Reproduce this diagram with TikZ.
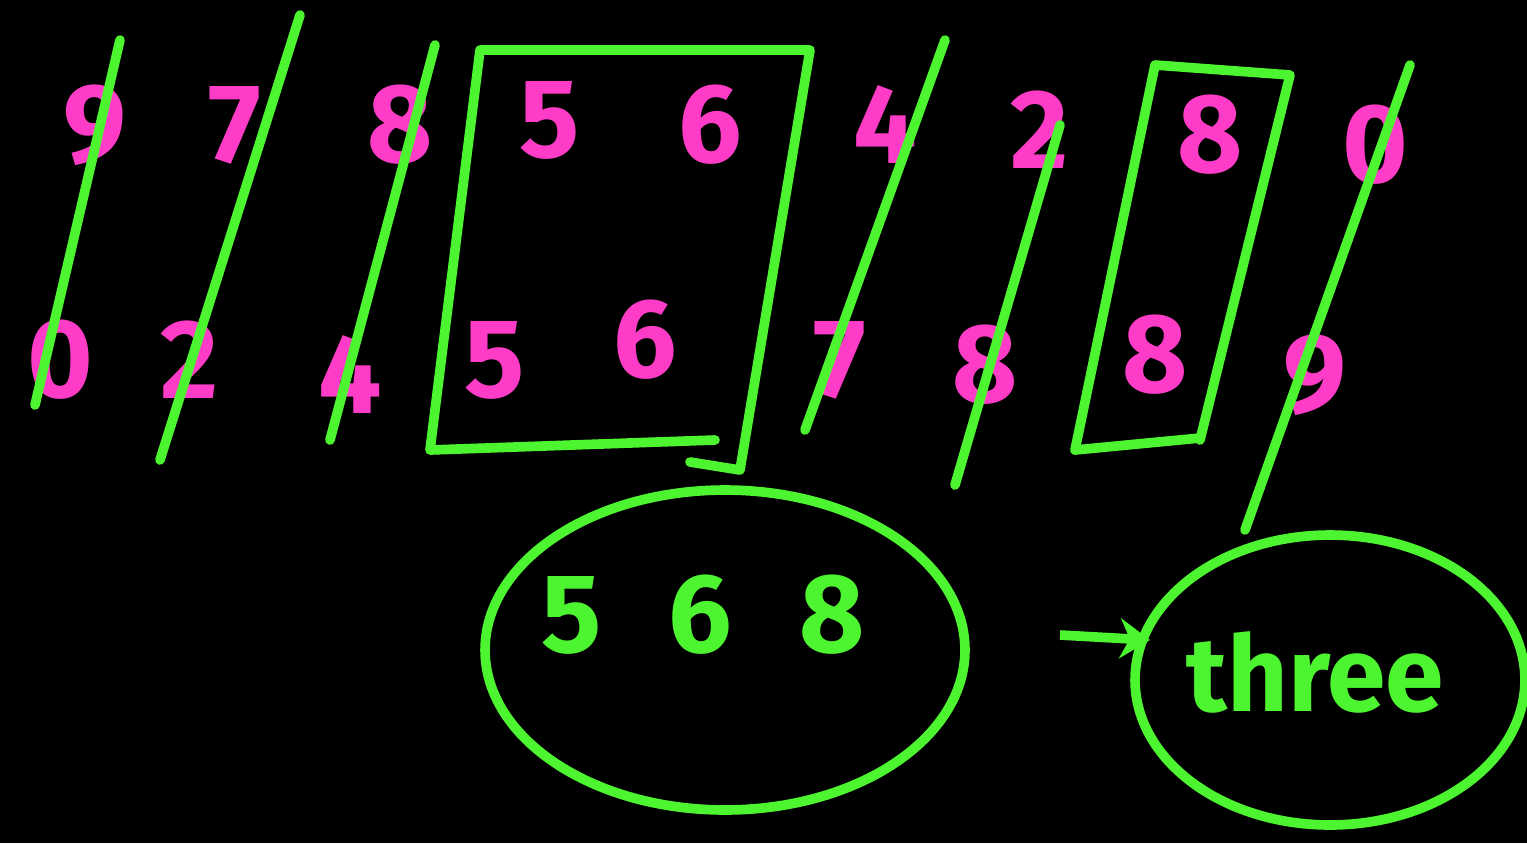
\documentclass[tikz,border=0pt]{standalone}
\usepackage{fontspec}
\setsansfont{Fira Sans}
\usetikzlibrary{arrows.meta,shapes.geometric}
\definecolor{pink}{HTML}{FF3CC8}
\definecolor{lime}{HTML}{4DF531}

\begin{document}
\begin{tikzpicture}[
    x=0.02cm, y=-0.02cm,
    digitnum/.style={
      text=pink,
      font=\sffamily\bfseries\fontsize{64}{64}\selectfont,
      inner sep=0pt
    },
    strike/.style={draw=lime, line width=5.5pt, line cap=round},
    frame/.style={draw=lime, line width=5.5pt, line join=round, line cap=round},
    loop/.style={
      ellipse,
      draw=lime,
      line width=5.5pt,
      inner sep=0pt
    },
    arrow/.style={-{Stealth[length=6mm,width=8mm]}, draw=lime, line width=5.5pt}
  ]
    \fill[black] (0,0) rectangle (1527,843);
    \useasboundingbox (0,0) rectangle (1527,843);

    % first list
    \node[digitnum] (a1) at (95,125) {9};
    \node[digitnum] (a2) at (235,125) {7};
    \node[digitnum] (a3) at (400,125) {8};
    \node[digitnum] (a4) at (550,120) {5};
    \node[digitnum] (a5) at (710,125) {6};
    \node[digitnum] (a6) at (885,125) {4};
    \node[digitnum] (a7) at (1040,130) {2};
    \node[digitnum] (a8) at (1210,135) {8};
    \node[digitnum] (a9) at (1375,145) {0};

    % second list
    \node[digitnum] (b1) at (60,360) {0};
    \node[digitnum] (b2) at (190,360) {2};
    \node[digitnum] (b3) at (350,375) {4};
    \node[digitnum] (b4) at (495,360) {5};
    \node[digitnum] (b5) at (645,340) {6};
    \node[digitnum] (b6) at (840,360) {7};
    \node[digitnum] (b7) at (985,365) {8};
    \node[digitnum] (b8) at (1155,355) {8};
    \node[digitnum] (b9) at (1315,375) {9};

    % crossed out pairs
    \draw[strike] (120,40) -- (35,405);
    \draw[strike] (300,15) -- (160,460);
    \draw[strike] (435,45) -- (330,440);
    \draw[strike] (945,40) -- (805,430);
    \draw[strike] (1060,125) -- (955,485);
    \draw[strike] (1410,65) -- (1245,530);

    % common ones
    \draw[frame] (715,440) -- (430,450) -- (480,50) -- (810,50) -- (740,470) -- (690,462);
    \draw[frame] (1200,438) -- (1075,450) -- (1155,65) -- (1290,75) -- (1200,440);

    \node[loop, minimum width=9.6cm, minimum height=6.4cm] (pick) at (725,650) {};
    \node[text=lime, font=\sffamily\bfseries\fontsize{64}{64}\selectfont] (picked) at (703,615) {5\hspace{1.35cm}6\hspace{1.35cm}8};

    \node[loop, minimum width=7.8cm, minimum height=5.8cm] (result) at (1330,680) {};
    \node[text=lime, font=\sffamily\bfseries\fontsize{60}{60}\selectfont] (word) at (1315,672) {three};

    \coordinate (tail) at (1060,635);
    \draw[arrow] (tail) -- (1150,640);
  \end{tikzpicture}
\end{document}
